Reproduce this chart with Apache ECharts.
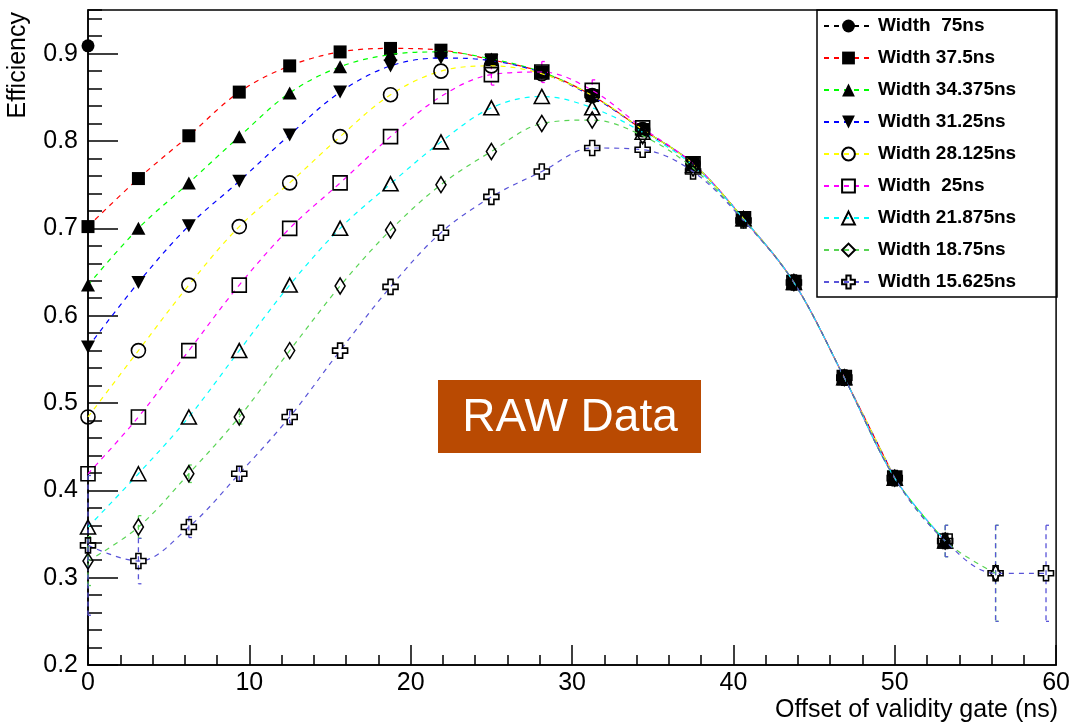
<!DOCTYPE html>
<html><head><meta charset="utf-8">
<script src="https://cdn.jsdelivr.net/npm/echarts@6/dist/echarts.min.js"></script>
<style>html,body{margin:0;padding:0;background:#fff}#c{width:1073px;height:726px}</style>
</head><body><div id="c"></div>
<script>
// ---- data ----
const offsets = [0, 3.125, 6.25, 9.375, 12.5, 15.625, 18.75, 21.875, 25, 28.125, 31.25, 34.375, 37.5, 40.625, 43.75, 46.875, 50, 53.125, 56.25, 59.375];
const seriesNames = ['Width  75ns', 'Width 37.5ns', 'Width 34.375ns', 'Width 31.25ns', 'Width 28.125ns', 'Width  25ns', 'Width 21.875ns', 'Width 18.75ns', 'Width 15.625ns'];
const eff75 = [0.909];
const eff37_5 = [0.702, 0.757, 0.806, 0.856, 0.886, 0.902, 0.906, 0.904, 0.893, 0.879, 0.852, 0.813, 0.774, 0.711, 0.638, 0.529, 0.414];
const eff34_375 = [0.635, 0.700, 0.752, 0.805, 0.855, 0.885, 0.899, 0.902, 0.894, 0.879, 0.852, 0.813, 0.774, 0.711, 0.638, 0.529, 0.414, 0.342];
const eff31_25 = [0.564, 0.638, 0.703, 0.754, 0.807, 0.856, 0.886, 0.895, 0.892, 0.878, 0.851, 0.813, 0.774, 0.711, 0.638, 0.529, 0.414];
const eff28_125 = [0.484, 0.560, 0.635, 0.702, 0.752, 0.805, 0.853, 0.880, 0.886, 0.877, 0.852, 0.813, 0.774, 0.711, 0.638, 0.529, 0.414];
const eff25 = [0.419, 0.484, 0.560, 0.635, 0.700, 0.752, 0.805, 0.851, 0.876, 0.879, 0.858, 0.815, 0.774, 0.711, 0.638, 0.529, 0.414, 0.342];
const eff21_875 = [0.358, 0.419, 0.484, 0.560, 0.635, 0.700, 0.751, 0.799, 0.838, 0.851, 0.838, 0.810, 0.772, 0.711, 0.638, 0.529, 0.414, 0.342];
const eff18_75 = [0.319, 0.358, 0.419, 0.484, 0.560, 0.634, 0.698, 0.750, 0.788, 0.820, 0.824, 0.806, 0.769, 0.710, 0.638, 0.529, 0.414, 0.342, 0.305];
const eff15_625 = [0.337, 0.319, 0.358, 0.419, 0.484, 0.560, 0.633, 0.695, 0.736, 0.765, 0.792, 0.790, 0.765, 0.709, 0.638, 0.529, 0.414, 0.342, 0.305, 0.305];
const err25 = [0, 0, 0, 0, 0, 0, 0, 0, 0.012, 0.012, 0.012, 0, 0, 0, 0, 0, 0, 0];
const err18_75 = [0.028, 0.013, 0.010, 0.008, 0, 0, 0, 0, 0, 0, 0, 0, 0, 0, 0, 0, 0.008, 0.018, 0.055];
const err15_625 = [0.080, 0.026, 0.012, 0.008, 0.007, 0, 0, 0, 0, 0, 0, 0, 0, 0, 0, 0, 0.008, 0.018, 0.055, 0.055];
const xTickValues = [0, 10, 20, 30, 40, 50, 60];
const yTickValues = [0.2, 0.3, 0.4, 0.5, 0.6, 0.7, 0.8, 0.9];

// ---- styles ----
const CROSS = 'path://M3,0H6V3H9V6H6V9H3V6H0V3H3Z';
const DIAMOND = 'path://M0,8L5,0L10,8L5,16Z';
const OPEN = 'rgba(0,0,0,0)';
const styles = [
  {values: eff75, color: '#000000', symbol: 'circle', size: 13, fill: '#000'},
  {values: eff37_5, color: '#ff0000', symbol: 'rect', size: 13, fill: '#000'},
  {values: eff34_375, color: '#00ff00', symbol: 'triangle', size: [14, 13], fill: '#000'},
  {values: eff31_25, color: '#0000ff', symbol: 'triangle', size: [14, 13], fill: '#000', rotate: 180},
  {values: eff28_125, color: '#ffff00', symbol: 'circle', size: 14, fill: OPEN},
  {values: eff25, color: '#ff00ff', symbol: 'rect', size: 14, fill: OPEN, err: err25},
  {values: eff21_875, color: '#00ffff', symbol: 'triangle', size: [15, 14], fill: OPEN},
  {values: eff18_75, color: '#59d454', symbol: DIAMOND, size: [10, 16], fill: OPEN, err: err18_75},
  {values: eff15_625, color: '#5954d8', symbol: CROSS, size: 15, fill: OPEN, err: err15_625}
];

function errRender(color) {
  return function (params, api) {
    const x = api.value(0), y = api.value(1), e = api.value(2);
    if (!e) return null;
    const t = api.coord([x, y + e]), b = api.coord([x, y - e]);
    const solid = {stroke: color, lineWidth: 1.3};
    return {type: 'group', children: [
      {type: 'line', shape: {x1: t[0], y1: t[1], x2: b[0], y2: b[1]}, style: {stroke: color, lineWidth: 1.3, lineDash: [5, 4]}},
      {type: 'line', shape: {x1: t[0], y1: t[1], x2: t[0] + 3, y2: t[1]}, style: solid},
      {type: 'line', shape: {x1: b[0], y1: b[1], x2: b[0] + 3, y2: b[1]}, style: solid}
    ]};
  };
}

const series = [];
styles.forEach((s, k) => {
  const data = s.values.map((v, i) => [offsets[i], v]);
  if (s.err) {
    series.push({
      type: 'custom', name: 'err' + k, z: 1, silent: true,
      renderItem: errRender(s.color),
      encode: {x: 0, y: 1},
      data: s.values.map((v, i) => [offsets[i], v, s.err[i]]),
      clip: false
    });
  }
  series.push({
    type: 'line', name: seriesNames[k], z: 2 + k,
    data: data, smooth: 0.35, clip: false,
    symbol: s.symbol, symbolSize: s.size, symbolRotate: s.rotate || 0,
    showAllSymbol: true,
    lineStyle: {color: s.color, width: 1.2, type: [5, 5]},
    itemStyle: {color: s.fill, borderColor: '#000', borderWidth: s.fill === OPEN ? 1.6 : 0},
    emphasis: {disabled: true}
  });
});

const FONT = 'Liberation Sans';
const chart = echarts.init(document.getElementById('c'), null, {renderer: 'canvas'});
chart.setOption({
  animation: false,
  backgroundColor: '#fff',
  grid: {left: 88, right: 15, top: 10, bottom: 61, show: true, borderColor: '#000', borderWidth: 1.5},
  xAxis: [
    {type: 'value', min: 0, max: 60, interval: 10,
     axisLine: {lineStyle: {color: '#000', width: 1.5}},
     axisTick: {inside: true, length: 20, lineStyle: {color: '#000', width: 1.5}},
     axisLabel: {color: '#000', fontFamily: FONT, fontSize: 25, margin: 6,
       formatter: v => xTickValues.indexOf(v) >= 0 ? String(v) : ''},
     splitLine: {show: false}},
    {type: 'value', min: 0, max: 60, interval: 2, position: 'bottom',
     axisLine: {show: false},
     axisTick: {inside: true, length: 10, lineStyle: {color: '#000', width: 1.5}},
     axisLabel: {show: false}, splitLine: {show: false}}
  ],
  yAxis: [
    {type: 'value', min: 0.2, max: 0.95, interval: 0.1,
     axisLine: {lineStyle: {color: '#000', width: 1.5}},
     axisTick: {inside: true, length: 30, lineStyle: {color: '#000', width: 1.5}},
     axisLabel: {color: '#000', fontFamily: FONT, fontSize: 25, margin: 10, showMaxLabel: false,
       formatter: v => { const m = yTickValues.find(t => Math.abs(t - v) < 1e-6); return m !== undefined ? String(m) : ''; }},
     splitLine: {show: false}},
    {type: 'value', min: 0.2, max: 0.95, interval: 0.02, position: 'left',
     axisLine: {show: false},
     axisTick: {inside: true, length: 14, lineStyle: {color: '#000', width: 1.5}},
     axisLabel: {show: false}, splitLine: {show: false}}
  ],
  legend: {
    data: seriesNames, orient: 'vertical', left: 823, top: 16, padding: 0,
    itemWidth: 49, itemHeight: 16, itemGap: 12, selectedMode: false,
    textStyle: {fontFamily: FONT, fontWeight: 'bold', fontSize: 19, color: '#000', lineHeight: 20}
  },
  graphic: [
    {type: 'rect', shape: {x: 817, y: 10, width: 240, height: 287}, style: {fill: 'none', stroke: '#000', lineWidth: 1.5}, z: 10},
    {type: 'rect', shape: {x: 438, y: 380, width: 263, height: 73}, style: {fill: '#b94a02'}, z: 10},
    {type: 'text', x: 570, y: 418, z: 11, style: {text: 'RAW Data', fill: '#fff', font: '46px "Liberation Sans"', textAlign: 'center', textVerticalAlign: 'middle'}},
    {type: 'text', x: 18, y: 12, rotation: Math.PI / 2, z: 11, style: {text: 'Efficiency', fill: '#000', font: '25px "Liberation Sans"', textAlign: 'right', textVerticalAlign: 'middle'}},
    {type: 'text', x: 1058, y: 710, z: 11, style: {text: 'Offset of validity gate (ns)', fill: '#000', font: '25px "Liberation Sans"', textAlign: 'right', textVerticalAlign: 'middle'}}
  ],
  series: series
});
</script></body></html>
